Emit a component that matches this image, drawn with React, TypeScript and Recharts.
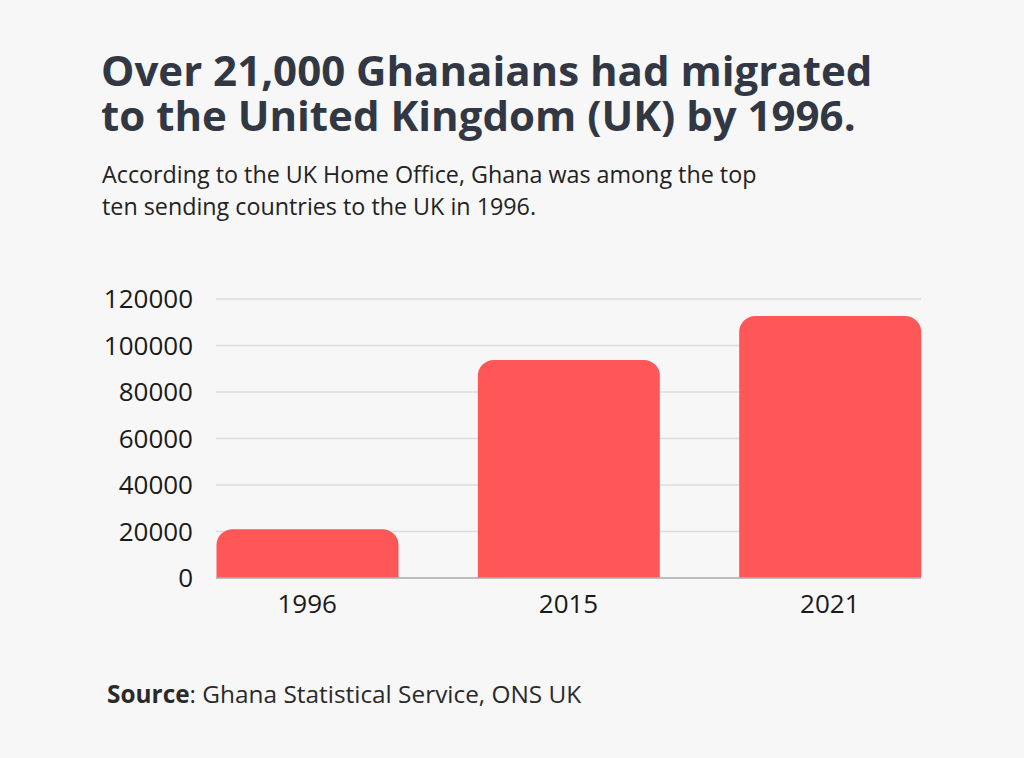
import React from 'react';
import { BarChart, Bar, XAxis, YAxis, CartesianGrid } from 'recharts';

const years = ['1996', '2015', '2021'];
const migrants = [21000, 93800, 112700];
const yTicks = [0, 20000, 40000, 60000, 80000, 100000, 120000];

const titleLines = ['Over 21,000 Ghanaians had migrated', 'to the United Kingdom (UK) by 1996.'];
const subtitleLines = [
  'According to the UK Home Office, Ghana was among the top',
  'ten sending countries to the UK in 1996.',
];

const data = years.map((y, i) => ({ year: y, value: migrants[i] }));

const W = 1024;
const H = 758;

const line = (
  top: number,
  size: number,
  lh: number,
  extra: React.CSSProperties = {}
): React.CSSProperties => ({
  position: 'absolute',
  left: 102,
  top,
  fontSize: size,
  lineHeight: `${lh}px`,
  whiteSpace: 'nowrap',
  ...extra,
});

export default function App() {
  return (
    <div
      style={{
        position: 'absolute',
        left: 0,
        top: 0,
        width: W,
        height: H,
        background: '#f7f7f7',
        overflow: 'hidden',
        fontFamily: '"Open Sans", sans-serif',
      }}
    >
      <div style={line(47.5, 42, 44, { fontWeight: 700, color: '#323843', left: 101 })}>{titleLines[0]}</div>
      <div style={line(92.5, 42, 44, { fontWeight: 700, color: '#323843', left: 101 })}>{titleLines[1]}</div>
      <div style={line(159, 23.3, 30, { color: '#222' })}>{subtitleLines[0]}</div>
      <div style={line(191, 23.3, 30, { color: '#222' })}>{subtitleLines[1]}</div>
      <div style={{ position: 'absolute', left: 0, top: 0 }}>
        <BarChart
          width={W}
          height={H}
          data={data}
          margin={{ top: 299, right: 103, bottom: 140, left: 116 }}
        >
          <CartesianGrid vertical={false} stroke="#dcdcdc" strokeWidth={1.5} />
          <XAxis
            dataKey="year"
            height={40}
            padding={{ left: -39.5, right: -39.5 }}
            axisLine={{ stroke: '#b0b0b0', strokeWidth: 1.5 }}
            tickLine={false}
            tickSize={0}
            tickMargin={17}
            tick={{ fill: '#1a1a1a', fontSize: 26, fontFamily: '"Open Sans", sans-serif' }}
          />
          <YAxis
            width={100}
            domain={[0, 120000]}
            ticks={yTicks}
            interval={0}
            axisLine={false}
            tickLine={false}
            tickSize={0}
            tickMargin={23}
            tick={{ fill: '#1a1a1a', fontSize: 26, fontFamily: '"Open Sans", sans-serif' }}
          />
          <Bar
            dataKey="value"
            fill="#ff5757"
            barSize={182}
            radius={[16, 16, 0, 0]}
            isAnimationActive={false}
          />
        </BarChart>
      </div>
      <div style={line(678, 24.4, 32, { left: 107, color: '#2a2a2a' })}>
        <span style={{ fontWeight: 700 }}>Source</span>: Ghana Statistical Service, ONS UK
      </div>
    </div>
  );
}
